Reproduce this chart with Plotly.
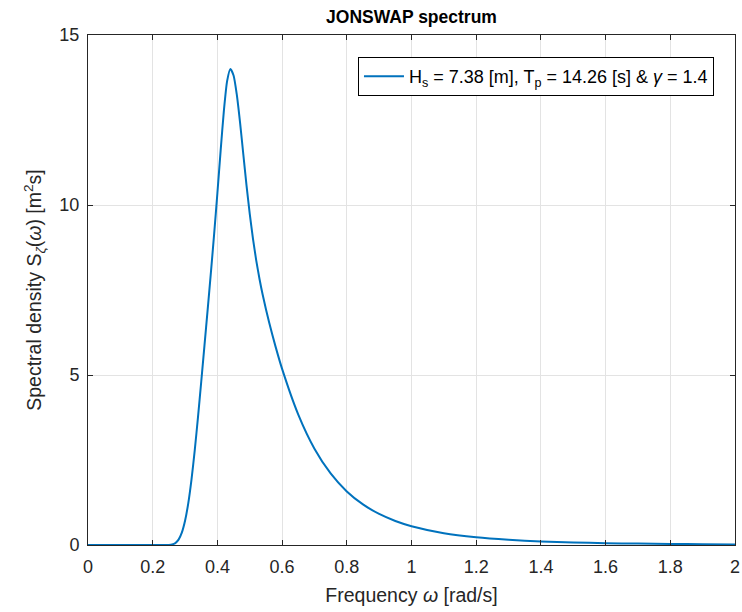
import plotly.graph_objects as go

# JONSWAP spectral density S(omega) for Hs = 7.38 m, Tp = 14.26 s, gamma = 1.4
omega = [0.0, 0.10, 0.20, 0.24, 0.25, 0.26, 0.27, 0.28, 0.29, 0.30, 0.31, 0.32, 0.33,
         0.34, 0.35, 0.36, 0.37, 0.38, 0.39, 0.40, 0.41, 0.42, 0.43, 0.44, 0.45,
         0.46, 0.47, 0.48, 0.49, 0.50, 0.51, 0.52, 0.53, 0.54, 0.56, 0.58, 0.60,
         0.65, 0.70, 0.75, 0.80, 0.85, 0.90, 0.95, 1.00, 1.10, 1.20, 1.30, 1.40,
         1.50, 1.60, 1.70, 1.80, 1.90, 2.00]
spectrum = [0.0, 0.0, 0.0, 0.0005, 0.0034, 0.0162, 0.057, 0.158, 0.362, 0.711, 1.233, 1.933, 2.789,
            3.762, 4.802, 5.866, 6.935, 8.024, 9.156, 10.352, 11.597, 12.770, 13.643, 14.00, 13.810,
            13.244, 12.430, 11.500, 10.580, 9.739, 9.004, 8.373, 7.832, 7.359, 6.541, 5.827, 5.180,
            3.836, 2.834, 2.105, 1.576, 1.193, 0.913, 0.707, 0.553, 0.348, 0.228, 0.154, 0.106,
            0.076, 0.055, 0.041, 0.031, 0.023, 0.018]

series_label = "H<sub>s</sub> = 7.38 [m], T<sub>p</sub> = 14.26 [s] & <i>γ</i> = 1.4"

axis_color = "#262626"
grid_color = "#e3e3e3"
font_family = "Liberation Sans, Arial, sans-serif"

fig = go.Figure()
fig.add_trace(go.Scatter(
    x=omega, y=spectrum, mode="lines", name=series_label,
    line=dict(color="#0072BD", width=2, shape="spline", smoothing=0.6),
))

common_axis = dict(
    showline=True, linecolor=axis_color, linewidth=1, mirror="ticks",
    ticks="inside", ticklen=5, tickcolor=axis_color, tickwidth=1,
    showgrid=True, gridcolor=grid_color, gridwidth=1, zeroline=False,
    automargin=False,
    tickfont=dict(family=font_family, size=18, color=axis_color),
    title_font=dict(family=font_family, size=19.5, color=axis_color),
)

fig.update_layout(
    width=742, height=612,
    margin=dict(l=88, r=7, t=35, b=67),
    paper_bgcolor="white", plot_bgcolor="white",
    title=dict(text="<b>JONSWAP spectrum</b>", x=(88 + 735) / 2 / 742, xanchor="center",
               y=1 - 17 / 612, yanchor="middle",
               font=dict(family=font_family, size=17.5, color="black")),
    xaxis=dict(range=[0, 2], dtick=0.2, tick0=0, ticklabelstandoff=5,
               title=dict(text="Frequency <i>ω</i> [rad/s]", standoff=12), **common_axis),
    yaxis=dict(range=[0, 15], dtick=5, tick0=0, ticklabelstandoff=4,
               title=dict(text="Spectral density S<sub><i>ζ</i></sub>(<i>ω</i>) [m<sup>2</sup>s]", standoff=12),
               **common_axis),
    showlegend=True,
    legend=dict(x=0.9675, y=0.957, xanchor="right", yanchor="top",
                bgcolor="white", bordercolor="black", borderwidth=1,
                font=dict(family=font_family, size=18, color="black"),
                itemwidth=40),
)

fig.write_html("out.html")
